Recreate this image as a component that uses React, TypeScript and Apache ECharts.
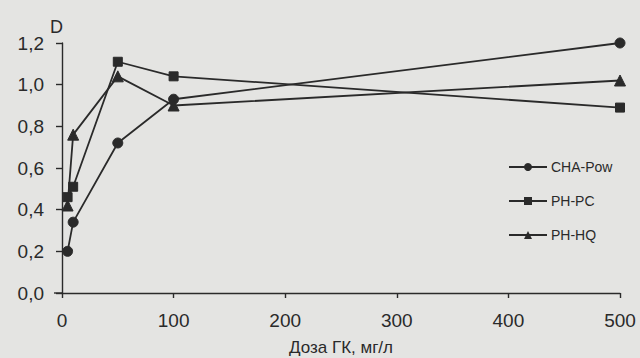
import React, { useEffect, useRef } from "react";
import * as echarts from "echarts";

const doses = [5, 10, 50, 100, 500];
const chaPow = [0.2, 0.34, 0.72, 0.93, 1.2];
const phPC = [0.46, 0.51, 1.11, 1.04, 0.89];
const phHQ = [0.42, 0.76, 1.04, 0.9, 1.02];
const seriesNames = ["CHA-Pow", "PH-PC", "PH-HQ"];
const xTicks = [0, 100, 200, 300, 400, 500];
const yTicks = [0, 0.2, 0.4, 0.6, 0.8, 1.0, 1.2];

const INK = "#2a2a2a";
const FONT = "Liberation Sans, Arial, sans-serif";

export default function App() {
  const ref = useRef<HTMLDivElement>(null);
  useEffect(() => {
    document.body.style.margin = "0";
    const chart = echarts.init(ref.current!, null, { renderer: "svg" });
    const mk = (name: string, vals: number[], symbol: string, size: number) => ({
      name,
      type: "line",
      data: doses.map((d, i) => [d, vals[i]]),
      symbol,
      symbolSize: size,
      lineStyle: { color: INK, width: 1.8 },
      itemStyle: { color: INK, borderColor: INK },
      emphasis: { disabled: true },
    });
    chart.setOption({
      animation: false,
      backgroundColor: "#e4e4e2",
      textStyle: { fontFamily: FONT, color: INK },
      grid: { left: 62, right: 20, top: 43, bottom: 65, containLabel: false, outerBoundsMode: "none" },
      legend: {
        orient: "vertical",
        left: 508,
        top: 160,
        padding: 0,
        itemWidth: 38,
        itemHeight: 10,
        itemGap: 20,
        data: seriesNames,
        textStyle: { fontFamily: FONT, fontSize: 14, color: INK, padding: [0, 0, 0, -1] },
        inactiveColor: INK,
      },
      xAxis: {
        type: "value",
        min: xTicks[0],
        max: xTicks[xTicks.length - 1],
        interval: 100,
        name: "Доза ГК, мг/л",
        nameLocation: "middle",
        nameGap: 45,
        nameTextStyle: { fontFamily: FONT, fontSize: 17, color: INK, lineHeight: 19 },
        axisLine: { lineStyle: { color: INK, width: 1.4 } },
        axisTick: { show: true, length: 5, lineStyle: { color: INK, width: 1.4 } },
        axisLabel: { fontFamily: FONT, fontSize: 19, color: INK, margin: 18 },
        splitLine: { show: false },
      },
      yAxis: {
        type: "value",
        min: yTicks[0],
        max: yTicks[yTicks.length - 1],
        interval: 0.2,
        name: "D",
        nameLocation: "end",
        nameGap: 7,
        nameTextStyle: { fontFamily: FONT, fontSize: 18, color: INK, align: "right", padding: [0, -1, 0, 0] },
        axisLine: { show: true, lineStyle: { color: INK, width: 1.4 } },
        axisTick: { show: true, length: 6, lineStyle: { color: INK, width: 1.4 } },
        axisLabel: {
          fontFamily: FONT,
          fontSize: 19,
          color: INK,
          margin: 18,
          formatter: (v: number) => v.toFixed(1).replace(".", ","),
        },
        splitLine: { show: false },
      },
      graphic: [
        { type: "line", shape: { x1: 54, y1: 293, x2: 62, y2: 293 }, style: { stroke: INK, lineWidth: 1.4 } },
      ],
      series: [
        mk(seriesNames[0], chaPow, "circle", 10),
        mk(seriesNames[1], phPC, "rect", 9),
        mk(seriesNames[2], phHQ, "triangle", 11),
      ],
    });
    return () => chart.dispose();
  }, []);
  return <div ref={ref} style={{ position: "absolute", left: 0, top: 0, width: 640, height: 358 }} />;
}
